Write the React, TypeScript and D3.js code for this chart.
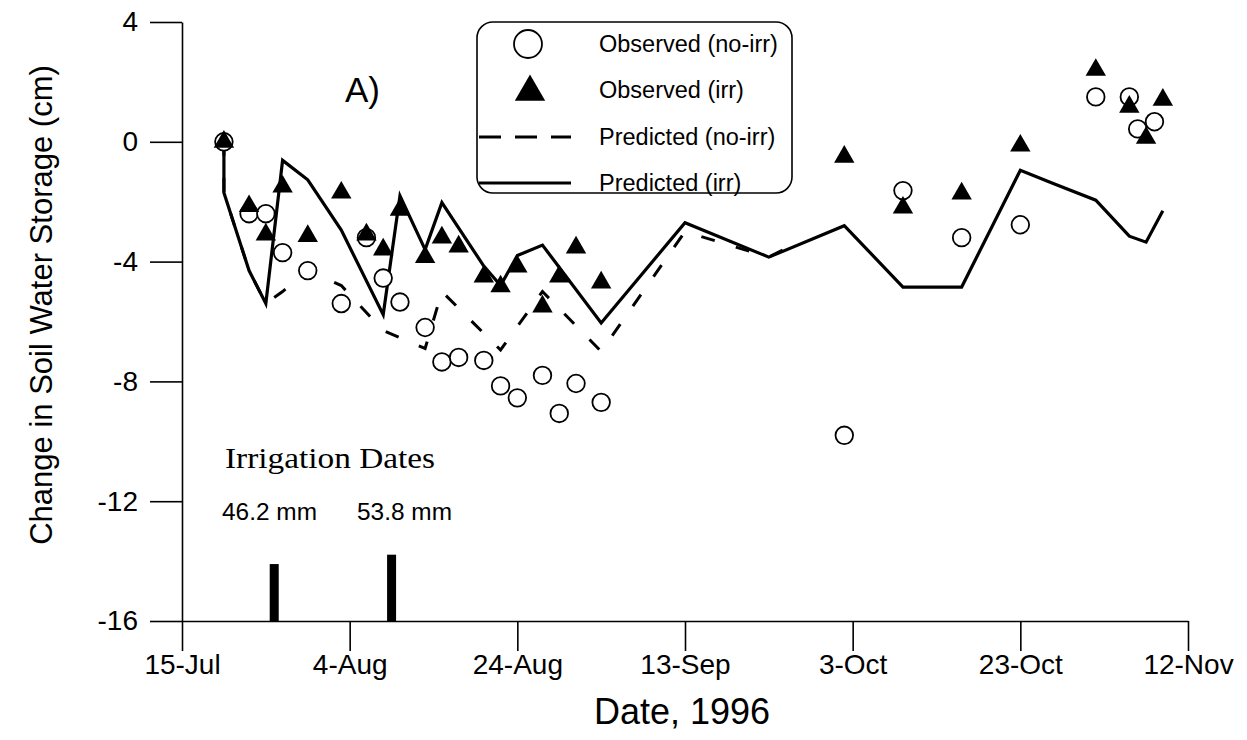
import * as d3 from 'd3';
import { useEffect, useRef } from 'react';

// days counted from 15-Jul-1996
const start = Date.UTC(1996, 6, 15);
const day = (n: number) => new Date(start + n * 86400000);

const xTickDays = [0, 20, 40, 60, 80, 100, 120];
const xTickLabels = ['15-Jul', '4-Aug', '24-Aug', '13-Sep', '3-Oct', '23-Oct', '12-Nov'];
const yTicks = [-16, -12, -8, -4, 0, 4];

const obsNoIrrDays = [5, 8, 10, 12, 15, 19, 22, 24, 26, 29, 31, 33, 36, 38, 40, 43, 45, 47, 50, 79, 86, 93, 100, 109, 113, 114, 116];
const obsNoIrr = [0, -2.4, -2.4, -3.7, -4.3, -5.4, -3.2, -4.55, -5.35, -6.2, -7.35, -7.2, -7.3, -8.15, -8.55, -7.8, -9.07, -8.07, -8.7, -9.8, -1.63, -3.2, -2.77, 1.5, 1.5, 0.43, 0.67];

const obsIrrDays = [5, 8, 10, 12, 15, 19, 22, 24, 26, 29, 31, 33, 36, 38, 40, 43, 45, 47, 50, 79, 86, 93, 100, 109, 113, 115, 117];
const obsIrr = [0, -2.15, -3.1, -1.5, -3.15, -1.7, -3.1, -3.6, -2.27, -3.85, -3.2, -3.5, -4.5, -4.83, -4.17, -5.5, -4.5, -3.53, -4.7, -0.5, -2.2, -1.73, -0.13, 2.4, 1.17, 0.13, 1.4];

const predIrrDays = [5, 5, 8, 10, 12, 15, 19, 24, 26, 29, 31, 36, 38, 40, 43, 50, 60, 70, 79, 86, 93, 100, 104, 109, 113, 115, 117];
const predIrr = [0, -1.7, -4.3, -5.4, -0.62, -1.27, -2.95, -5.77, -1.8, -3.6, -2.03, -4.15, -4.8, -3.8, -3.45, -6.05, -2.7, -3.85, -2.8, -4.85, -4.85, -0.95, -1.4, -1.95, -3.15, -3.35, -2.3];

const predNoIrrDays = [5, 5, 8, 10, 12, 15, 19, 24, 29, 31, 38, 43, 50, 60, 70, 72];
const predNoIrr = [0, -1.7, -4.3, -5.4, -5.0, -4.3, -4.8, -6.3, -6.9, -5.0, -6.95, -5.0, -7.0, -3.0, -3.85, -3.57];

const irrigationDays = [11, 25];
const irrigationMm = [46.2, 53.8];

const legendLabels = ['Observed (no-irr)', 'Observed (irr)', 'Predicted (no-irr)', 'Predicted (irr)'];

export default function App() {
  const svgRef = useRef<SVGSVGElement>(null);
  const width = 1247;
  const height = 740;
  const marginTop = 22;
  const marginRight = 59;
  const marginBottom = 119;
  const marginLeft = 182;
  const font = '"Liberation Sans", Arial, sans-serif';

  useEffect(() => {
    const svg = d3.select(svgRef.current);
    svg.selectAll('*').remove();

    const x = d3.scaleUtc().domain([day(0), day(120)]).range([marginLeft, width - marginRight]);
    const y = d3.scaleLinear().domain([-16, 4]).range([height - marginBottom, marginTop]);

    // axes
    svg
      .append('g')
      .attr('transform', `translate(${marginLeft},0)`)
      .call(
        d3
          .axisLeft(y)
          .tickValues(yTicks)
          .tickFormat((d) => String(d))
          .tickSize(32)
          .tickSizeOuter(0)
          .tickPadding(12)
      )
      .call((g) => g.selectAll('line, path').attr('stroke', '#000').attr('stroke-width', 1.6))
      .call((g) => g.selectAll('text').attr('font-size', 28).attr('font-family', font).attr('fill', '#000'));

    svg
      .append('g')
      .attr('transform', `translate(0,${height - marginBottom})`)
      .call(
        d3
          .axisBottom(x)
          .tickValues(xTickDays.map(day))
          .tickFormat((d, i) => xTickLabels[i])
          .tickSize(30)
          .tickSizeOuter(0)
          .tickPadding(3)
      )
      .call((g) => g.selectAll('line, path').attr('stroke', '#000').attr('stroke-width', 1.6))
      .call((g) => g.selectAll('text').attr('font-size', 28).attr('font-family', font).attr('fill', '#000'));

    svg
      .append('text')
      .attr('transform', `translate(52,305) rotate(-90)`)
      .attr('text-anchor', 'middle')
      .attr('font-family', font)
      .attr('font-size', 31)
      .text('Change in Soil Water Storage (cm)');

    svg
      .append('text')
      .attr('x', 682)
      .attr('y', 724)
      .attr('text-anchor', 'middle')
      .attr('font-family', font)
      .attr('font-size', 36)
      .text('Date, 1996');

    // irrigation bars
    const barTop = (mm: number) => y(-16 + mm / 24.3);
    svg
      .append('g')
      .selectAll('rect')
      .data(irrigationDays)
      .join('rect')
      .attr('x', (d) => x(day(d)) - 4.5)
      .attr('width', 9)
      .attr('y', (d, i) => barTop(irrigationMm[i]))
      .attr('height', (d, i) => y(-16) - barTop(irrigationMm[i]))
      .attr('fill', '#000');

    svg
      .append('text')
      .attr('x', 225)
      .attr('y', 468)
      .attr('font-family', '"Liberation Serif", "Times New Roman", serif')
      .attr('font-size', 30)
      .attr('textLength', 210)
      .attr('lengthAdjust', 'spacingAndGlyphs')
      .text('Irrigation Dates');

    svg
      .append('g')
      .selectAll('text')
      .data(irrigationMm)
      .join('text')
      .attr('x', (d, i) => (i === 0 ? 222 : 357))
      .attr('y', 520)
      .attr('font-family', font)
      .attr('font-size', 23)
      .attr('textLength', 95)
      .attr('lengthAdjust', 'spacingAndGlyphs')
      .text((d) => `${d} mm`);

    svg
      .append('text')
      .attr('x', 345)
      .attr('y', 102)
      .attr('font-family', font)
      .attr('font-size', 35)
      .text('A)');

    // predicted lines
    const line = d3
      .line<[number, number]>()
      .x((d) => x(day(d[0])))
      .y((d) => y(d[1]));

    svg
      .append('path')
      .datum(predNoIrrDays.map((d, i) => [d, predNoIrr[i]] as [number, number]))
      .attr('fill', 'none')
      .attr('stroke', '#000')
      .attr('stroke-width', 3)
      .attr('stroke-dasharray', '14,22')
      .attr('d', line);

    svg
      .append('path')
      .datum(predIrrDays.map((d, i) => [d, predIrr[i]] as [number, number]))
      .attr('fill', 'none')
      .attr('stroke', '#000')
      .attr('stroke-width', 3.2)
      .attr('stroke-linejoin', 'miter')
      .attr('d', line);

    // observed points
    svg
      .append('g')
      .selectAll('circle')
      .data(obsNoIrrDays)
      .join('circle')
      .attr('cx', (d) => x(day(d)))
      .attr('cy', (d, i) => y(obsNoIrr[i]))
      .attr('r', 8.8)
      .attr('fill', '#fff')
      .attr('stroke', '#000')
      .attr('stroke-width', 1.8);

    const tri = d3.symbol(d3.symbolTriangle, 180);
    svg
      .append('g')
      .selectAll('path')
      .data(obsIrrDays)
      .join('path')
      .attr('transform', (d, i) => `translate(${x(day(d))},${y(obsIrr[i])})`)
      .attr('d', tri())
      .attr('fill', '#000');

    // legend
    const legend = svg.append('g');
    legend
      .append('rect')
      .attr('x', 477)
      .attr('y', 22)
      .attr('width', 315)
      .attr('height', 171)
      .attr('rx', 16)
      .attr('fill', '#fff')
      .attr('stroke', '#000')
      .attr('stroke-width', 1.6);
    const rowY = [44, 90, 137, 183];
    legend
      .append('circle')
      .attr('cx', 528)
      .attr('cy', rowY[0])
      .attr('r', 14)
      .attr('fill', '#fff')
      .attr('stroke', '#000')
      .attr('stroke-width', 1.8);
    legend
      .append('path')
      .attr('transform', `translate(530,${rowY[1] + 2})`)
      .attr('d', d3.symbol(d3.symbolTriangle, 400)())
      .attr('fill', '#000');
    legend
      .append('line')
      .attr('x1', 479)
      .attr('x2', 571)
      .attr('y1', rowY[2])
      .attr('y2', rowY[2])
      .attr('stroke', '#000')
      .attr('stroke-width', 3)
      .attr('stroke-dasharray', '22,14');
    legend
      .append('line')
      .attr('x1', 479)
      .attr('x2', 571)
      .attr('y1', rowY[3])
      .attr('y2', rowY[3])
      .attr('stroke', '#000')
      .attr('stroke-width', 3);
    legend
      .selectAll('text')
      .data(legendLabels)
      .join('text')
      .attr('x', 599)
      .attr('y', (d, i) => rowY[i] + 8)
      .attr('font-family', font)
      .attr('font-size', 23.5)
      .text((d) => d);
  }, []);

  return (
    <svg
      ref={svgRef}
      width={width}
      height={height}
      viewBox={`0 0 ${width} ${height}`}
      style={{ position: 'absolute', left: 0, top: 0, background: '#fff' }}
    ></svg>
  );
}
